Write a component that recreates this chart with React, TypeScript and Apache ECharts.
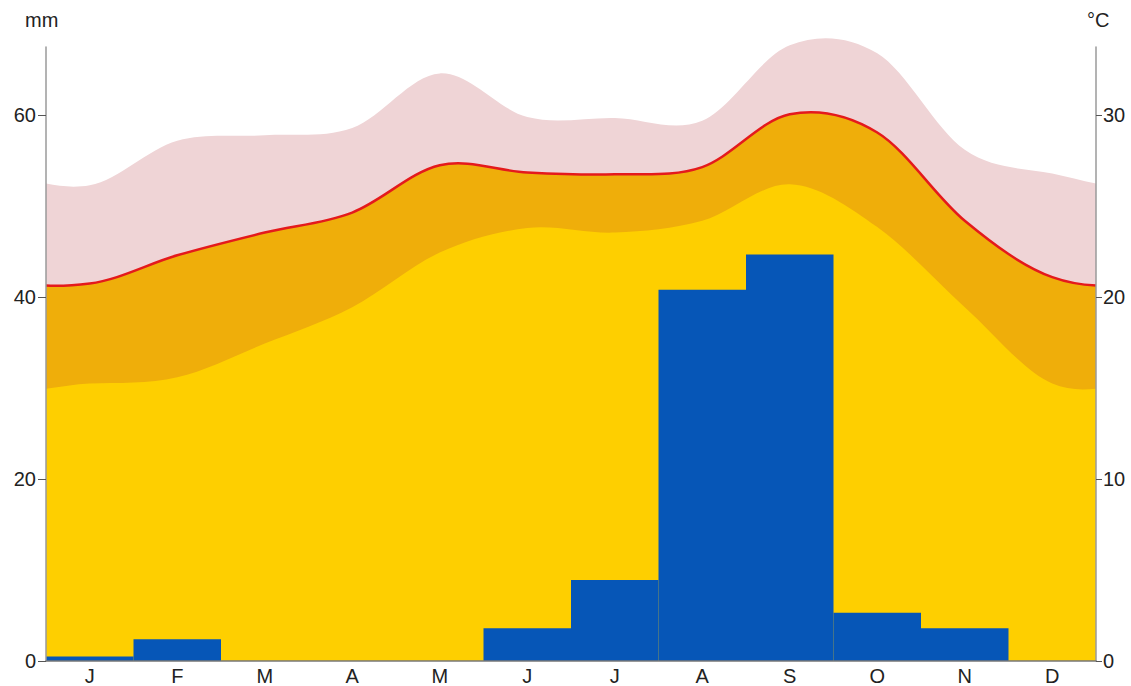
import React, { useEffect, useRef } from "react";
import * as echarts from "echarts";

const months = ["J", "F", "M", "A", "M", "J", "J", "A", "S", "O", "N", "D"];
// precipitation (mm)
const precipitation = [0.5, 2.4, 0, 0, 0, 3.6, 8.9, 40.8, 44.7, 5.3, 3.6, 0];
// monthly temperatures (°C)
const tempUpper = [26.15, 28.6, 28.9, 29.3, 32.3, 29.9, 29.85, 29.7, 33.85, 33.4, 28.1, 26.8];
const tempMax = [20.75, 22.3, 23.55, 24.65, 27.25, 26.85, 26.75, 27.15, 30.05, 29.05, 24.2, 21.1];
const tempMin = [15.25, 15.6, 17.45, 19.45, 22.45, 23.8, 23.55, 24.2, 26.2, 23.85, 19.45, 15.25];
const mmTicks = [0, 20, 40, 60];
const cTicks = [0, 10, 20, 30];

type P = [number, number];
const mid = (a: P, b: P): P => [(a[0] + b[0]) / 2, (a[1] + b[1]) / 2];
const f = (p: P) => `${p[0].toFixed(2)} ${p[1].toFixed(2)}`;

// Periodic Catmull-Rom curve through the monthly values, cut to the year (x 0..12)
function curvePath(values: number[], api: any, area: boolean): string {
  const n = values.length;
  const ext = [values[n - 2], values[n - 1], ...values, values[0], values[1]];
  const pts: P[] = ext.map((v, i) => api.coord([i - 1.5, v]) as P);
  let d = "";
  let start: P | null = null;
  let end: P | null = null;
  for (let i = 1; i <= n + 1; i++) {
    const p0 = pts[i - 1], p1 = pts[i], p2 = pts[i + 1], p3 = pts[i + 2];
    const c1: P = [p1[0] + (p2[0] - p0[0]) / 6, p1[1] + (p2[1] - p0[1]) / 6];
    const c2: P = [p2[0] - (p3[0] - p1[0]) / 6, p2[1] - (p3[1] - p1[1]) / 6];
    if (i === 1) {
      const ab = mid(p1, c1), bc = mid(c1, c2), cd = mid(c2, p2);
      const abc = mid(ab, bc), bcd = mid(bc, cd), m = mid(abc, bcd);
      start = m;
      d += `M ${f(m)} C ${f(bcd)} ${f(cd)} ${f(p2)} `;
    } else if (i === n + 1) {
      const ab = mid(p1, c1), bc = mid(c1, c2), cd = mid(c2, p2);
      const abc = mid(ab, bc), bcd = mid(bc, cd), m = mid(abc, bcd);
      end = m;
      d += `C ${f(ab)} ${f(abc)} ${f(m)} `;
    } else {
      d += `C ${f(c1)} ${f(c2)} ${f(p2)} `;
    }
  }
  if (area && start && end) {
    const y0 = api.coord([0, 0])[1];
    d += `L ${end[0].toFixed(2)} ${y0.toFixed(2)} L ${start[0].toFixed(2)} ${y0.toFixed(2)} Z`;
  }
  return d;
}

function curveSeries(values: number[], area: boolean, style: any, z: number) {
  return {
    type: "custom",
    xAxisIndex: 1,
    yAxisIndex: 1,
    data: [[0, 0]],
    silent: true,
    clip: false,
    z,
    renderItem: (_params: any, api: any) => ({
      type: "path",
      shape: { pathData: curvePath(values, api, area) },
      style,
    }),
  };
}

export default function App() {
  const ref = useRef<HTMLDivElement>(null);
  useEffect(() => {
    const chart = echarts.init(ref.current!, null, { renderer: "svg" });
    const axisColor = "#9a9a9a";
    const textColor = "#222";
    const font = "Liberation Sans, Arial, sans-serif";
    const fs = 20;
    chart.setOption({
      animation: false,
      backgroundColor: "#fff",
      textStyle: { fontFamily: font },
      grid: { left: 46, right: 35, top: 47, bottom: 25, containLabel: false },
      graphic: [
        { type: "text", left: 25, top: 10, style: { text: "mm", fontSize: fs, fill: textColor, fontFamily: font } },
        { type: "text", left: 1087, top: 10, style: { text: "°C", fontSize: fs, fill: textColor, fontFamily: font } },
      ],
      xAxis: [
        {
          type: "category",
          data: months,
          boundaryGap: true,
          axisLine: { show: true, onZero: false, lineStyle: { color: "#777", width: 1.5 } },
          axisTick: { show: false },
          axisLabel: { color: textColor, fontSize: fs, margin: 5, fontFamily: font },
          splitLine: { show: false },
          z: 10,
        },
        {
          type: "value",
          min: 0,
          max: 12,
          show: false,
          position: "bottom",
        },
      ],
      yAxis: [
        {
          type: "value",
          min: 0,
          max: 67.5,
          position: "left",
          axisLine: { show: true, lineStyle: { color: axisColor, width: 1.5 } },
          axisTick: { show: true, inside: false, length: 8, customValues: mmTicks, lineStyle: { color: "#555" } },
          axisLabel: { color: textColor, fontSize: fs, margin: 10, customValues: mmTicks, fontFamily: font },
          splitLine: { show: false },
          z: 10,
        },
        {
          type: "value",
          min: 0,
          max: 33.75,
          position: "right",
          axisLine: { show: true, lineStyle: { color: axisColor, width: 1.5 } },
          axisTick: { show: true, inside: false, length: 6, customValues: cTicks, lineStyle: { color: "#555" } },
          axisLabel: { color: textColor, fontSize: fs, margin: 7, customValues: cTicks, fontFamily: font },
          splitLine: { show: false },
          z: 10,
        },
      ],
      series: [
        curveSeries(tempUpper, true, { fill: "#efd4d6", stroke: "none" }, 1),
        curveSeries(tempMax, true, { fill: "#efae0a", stroke: "none" }, 2),
        curveSeries(tempMin, true, { fill: "#fecf00", stroke: "none" }, 3),
        {
          type: "bar",
          xAxisIndex: 0,
          yAxisIndex: 0,
          data: precipitation,
          barCategoryGap: "0%",
          itemStyle: { color: "#0656b7" },
          z: 4,
        },
        curveSeries(tempMax, false, { fill: "none", stroke: "#e41a1c", lineWidth: 2.5 }, 5),
      ],
    });
    return () => chart.dispose();
  }, []);
  return (
    <div
      ref={ref}
      style={{ position: "absolute", left: 0, top: 0, width: 1131, height: 686 }}
    />
  );
}
